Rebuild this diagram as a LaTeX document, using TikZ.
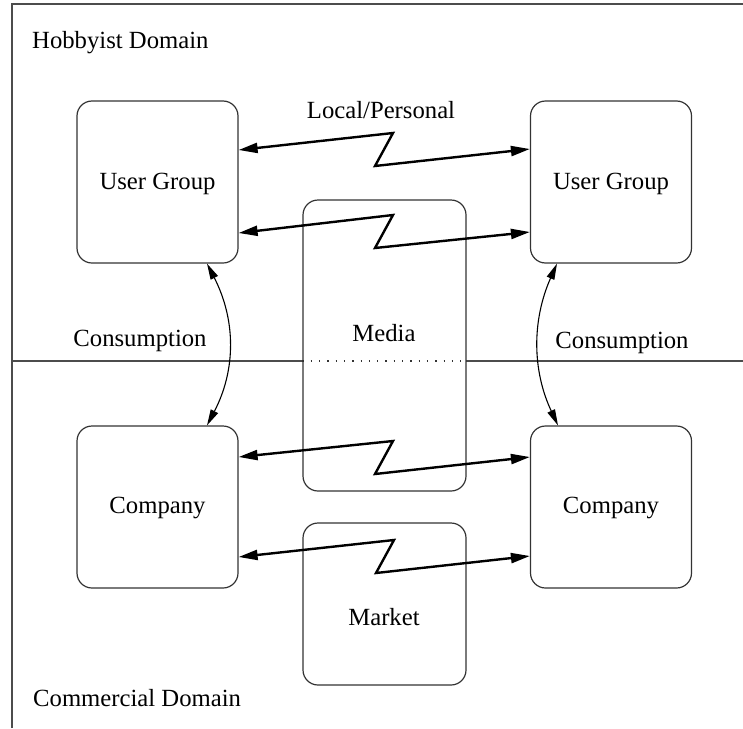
\documentclass[tikz,border=0pt]{standalone}
\usepackage{fontspec}
\setmainfont{Liberation Serif}
\usetikzlibrary{arrows.meta}
\tikzset{
  box/.style={draw=black!80, line width=1.2pt, rounded corners=15pt, minimum width=161pt, minimum height=162pt, inner sep=0pt},
  lbl/.style={inner sep=0pt, font=\fontsize{24.7}{29}\selectfont},
  zz/.style={line width=2.4pt, line join=miter, {Triangle[length=19pt,width=10pt]}-{Triangle[length=19pt,width=10pt]}},
  cons/.style={line width=1.1pt, {Triangle[length=16pt,width=8pt]}-{Triangle[length=16pt,width=8pt]}},
  frame/.style={draw=black!70, line width=1.5pt}
}
\begin{document}
\begin{tikzpicture}[x=1pt,y=-1pt]
\useasboundingbox (0,0) rectangle (743,728);
% frame
\draw[frame] (12,728) -- (12,4) -- (743,4);
\draw[frame] (12,361) -- (303,361);
\draw[frame] (466,361) -- (743,361);
% boxes
\node[box] (ugl) at (157.5,182) {};
\node[box] (ugr) at (611,182) {};
\node[box] (col) at (157.5,507) {};
\node[box] (cor) at (611,507) {};
\node[box, minimum width=163pt, minimum height=291pt] (media) at (384.5,345.5) {};
\node[box, minimum width=163pt, minimum height=162pt] (market) at (384.5,604) {};
\draw[black!80, line width=1.3pt, dash pattern=on 1.3pt off 7pt] (media.west |- 0,361) -- (media.east |- 0,361);
% labels
\node[lbl] (tugl) at ([yshift=-2pt]ugl.center) {User Group};
\node[lbl] (tugr) at ([yshift=-2pt]ugr.center) {User Group};
\node[lbl] (tcol) at ([yshift=-1pt]col.center) {Company};
\node[lbl] (tcor) at ([yshift=-1pt]cor.center) {Company};
\node[lbl] (tmedia) at (384,333) {Media};
\node[lbl] (tmarket) at (384,617) {Market};
\node[lbl] (tlocal) at (381,110) {Local/Personal};
\node[lbl] (tconsl) at (140,341) {Consumption};
\node[lbl] (tconsr) at (622,343) {Consumption};
\node[lbl, anchor=west] (thob) at (32,43) {Hobbyist Domain};
\node[lbl, anchor=west] (tcom) at (33,698) {Commercial Domain};
% zigzag connectors
\draw[zz] ([yshift=32pt]ugl.east) -- (393,133) -- (375,166) -- ([yshift=33pt]ugr.west);
\draw[zz] ([yshift=-51pt]ugl.east) -- (393,215) -- (375,248) -- ([yshift=-50pt]ugr.west);
\draw[zz] ([yshift=50pt]col.east) -- (393,441) -- (375,474) -- ([yshift=50pt]cor.west);
\draw[zz] ([yshift=-50pt]col.east) -- (394,540) -- (376,573) -- ([yshift=-49pt]cor.west);
% consumption connectors
\draw[cons] ([xshift=49.5pt]ugl.south) .. controls (236,320) and (236,370) .. ([xshift=49.5pt]col.north);
\draw[cons] ([xshift=-54pt]ugr.south) .. controls (532,320) and (532,370) .. ([xshift=-53pt]cor.north);
\end{tikzpicture}
\end{document}
